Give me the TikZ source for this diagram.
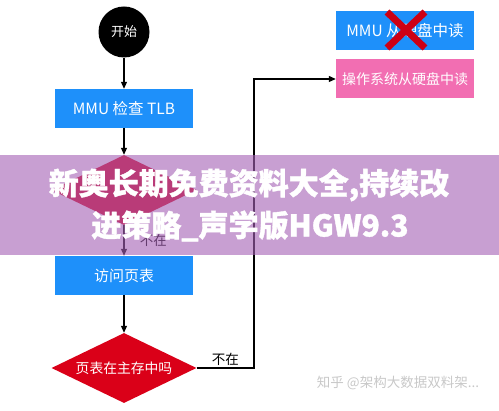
\documentclass[tikz,border=0pt]{standalone}
\usepackage{fontspec}
\setmainfont{Noto Sans CJK SC}
\newfontfamily\bandfont{Noto Sans CJK SC}[BoldFeatures={FakeBold=1.2}]
\usetikzlibrary{arrows.meta,positioning,shapes.geometric}
\definecolor{mmublue}{RGB}{30,144,250}
\definecolor{ospink}{RGB}{242,110,178}
\definecolor{askred}{RGB}{218,0,24}
\definecolor{crossred}{RGB}{205,0,20}
\definecolor{bandpurple}{RGB}{165,98,181}
\definecolor{markgray}{RGB}{200,200,200}

\begin{document}
\begin{tikzpicture}[x=1pt, y=-1pt,
  stepbox/.style={fill=mmublue, text=white, minimum width=138pt,
    minimum height=39pt, inner sep=0pt, font=\fontsize{14}{16}\selectfont},
  ask/.style={diamond, fill=askred, text=white, minimum width=145pt,
    minimum height=70pt, aspect=2.07, inner sep=0pt,
    font=\fontsize{13.8}{16}\selectfont},
  flow/.style={-{Triangle[length=7pt,width=6pt]}, line width=1.1pt},
  lbl/.style={font=\fontsize{13.5}{16}\selectfont}]
\useasboundingbox (0,0) rectangle (499,411);
% flow down the left side
\node[circle, fill=black, text=white, minimum size=51pt, inner sep=0pt,
  font=\fontsize{13}{15}\selectfont] (start) at (124,32) {开始};
\node[stepbox, font=\fontsize{15.5}{18}\selectfont] (tlb) at (124,108.5) {MMU 检查 TLB};
\node[ask] (hit) at (124,190) {};
\node[stepbox, font=\fontsize{15}{18}\selectfont] (walk) at (124,275.5) {访问页表};
\node[ask] (inmem) at (124,368) {页表在主存中吗};
% the two readers on the right
\node[stepbox, font=\fontsize{15.5}{18}\selectfont] (mmuread) at (405,31) {MMU 从硬盘中读};
\node[stepbox, fill=ospink] (osread) at (405,79) {操作系统从硬盘中读};
\coordinate (turn) at (254,368);
\draw[flow] (start) -- (tlb);
\draw[flow] (tlb) -- (hit);
\draw[flow] (hit) -- node[lbl, right, xshift=12pt] {不在} (walk);
\draw[flow] (walk) -- (inmem);
\draw[flow] (inmem) -- node[lbl, above, yshift=-1pt] {不在} (turn) |- (osread);
% cross over the MMU reader
\draw[crossred, line width=7pt] (387,12) -- (425,48);
\draw[crossred, line width=7pt] (425,12) -- (387,48);
% banner on top
\fill[bandpurple, fill opacity=0.61] (0,155) rectangle (499,255);
\node[text=white, font=\fontsize{30}{34}\bandfont\bfseries]
  (bandtop) at (249,185) {新奥长期免费资料大全,持续改};
\node[text=white, font=\fontsize{30}{34}\bandfont\bfseries]
  (bandlow) at (250,226) {进策略\_声学版HGW9.3};
\node[text=markgray, font=\fontsize{13.5}{16}\selectfont]
  (mark) at (398,383) {知乎 @架构大数据双料架...};
\end{tikzpicture}
\end{document}
